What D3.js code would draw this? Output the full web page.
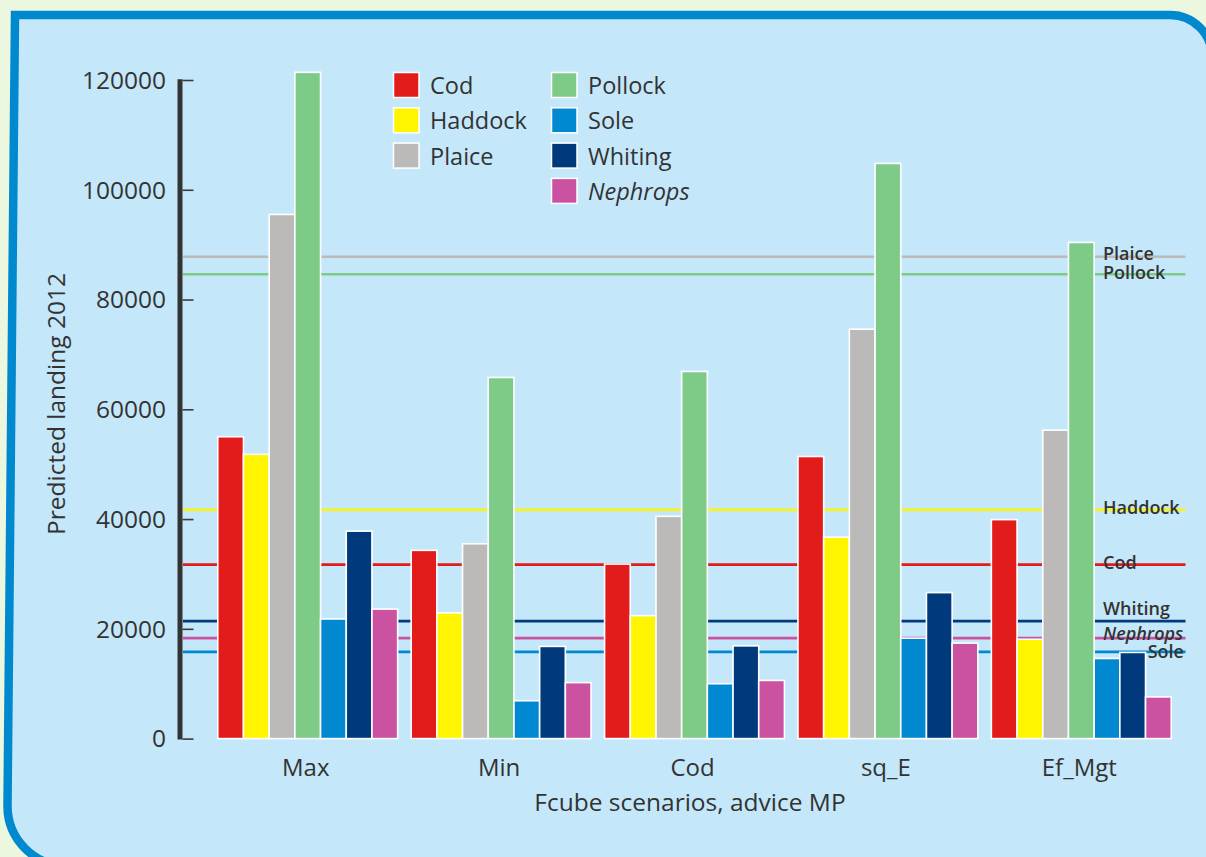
<!DOCTYPE html>
<html>
<head>
<meta charset="utf-8">
<script src="https://cdn.jsdelivr.net/npm/d3@7"></script>
<style>
  html, body { margin: 0; padding: 0; background: #ebf7de; }
  svg { display: block; }
  text { font-family: "Open Sans", "Noto Sans", sans-serif; fill: #333; }
</style>
</head>
<body>
<svg id="chart" width="1206" height="857"></svg>
<script>
// ---- data ----
const categories = ["Max", "Min", "Cod", "sq_E", "Ef_Mgt"];
const species = ["Cod", "Haddock", "Plaice", "Pollock", "Sole", "Whiting", "Nephrops"];
const speciesColors = ["#e21b1b", "#fff500", "#bcbab8", "#7ecb88", "#0089d0", "#003a7d", "#cb51a1"];
const valuesMax   = [55000, 51800, 95500, 121400, 21800, 37800, 23600];
const valuesMin   = [34300, 22900, 35500, 65800, 6900, 16800, 10200];
const valuesCod   = [31800, 22400, 40500, 66900, 10000, 16900, 10600];
const valuesSqE   = [51400, 36700, 74600, 104800, 18300, 26600, 17400];
const valuesEfMgt = [39900, 18100, 56200, 90400, 14600, 15700, 7600];
const referenceLevels = [31700, 41700, 87800, 84600, 15800, 21400, 18300];
const yTicks = [0, 20000, 40000, 60000, 80000, 100000, 120000];
const yTitle = "Predicted landing 2012";
const xTitle = "Fcube scenarios, advice MP";

const seriesByCategory = [valuesMax, valuesMin, valuesCod, valuesSqE, valuesEfMgt];

const svg = d3.select("#chart");

// ---- panel ----
svg.append("path")
  .attr("d", "M15,15 L1170,15 A42,42 0 0 1 1212,57 L1212,866 L67.5,866 A60,60 0 0 1 7.5,806 Z")
  .attr("fill", "#c4e8fa")
  .attr("stroke", "#0089cf")
  .attr("stroke-width", 8.5)
  .attr("stroke-linejoin", "miter");

// ---- scales ----
const y = d3.scaleLinear().domain([0, 120000]).range([738.6, 80]);
const x0 = d3.scaleBand().domain(categories).range([211, 1178]).paddingInner(0.07).paddingOuter(0.035);
const x1 = d3.scaleBand().domain(species).range([0, x0.bandwidth()]).padding(0);

// ---- reference lines ----
const refG = svg.append("g");
species.forEach((s, i) => {
  refG.append("line")
    .attr("x1", 183).attr("x2", 1185.5)
    .attr("y1", y(referenceLevels[i])).attr("y2", y(referenceLevels[i]))
    .attr("stroke", speciesColors[i]).attr("stroke-width", 2.6);
});

// ---- bars ----
const gBars = svg.append("g");
categories.forEach((c, ci) => {
  const g = gBars.append("g").attr("transform", `translate(${x0(c)},0)`);
  g.selectAll("rect")
    .data(seriesByCategory[ci].map((v, i) => ({ s: species[i], v, color: speciesColors[i] })))
    .join("rect")
    .attr("x", d => x1(d.s))
    .attr("width", x1.bandwidth())
    .attr("y", d => y(d.v))
    .attr("height", d => y(0) - y(d.v))
    .attr("fill", d => d.color)
    .attr("stroke", "#ffffff")
    .attr("stroke-width", 1.6);
});

// ---- y axis ----
const yAxis = d3.axisRight(y).tickValues(yTicks).tickSize(11).tickFormat("");
const gy = svg.append("g").attr("transform", "translate(182.5,0)").call(yAxis);
gy.select(".domain").remove();
gy.selectAll(".tick line").attr("stroke", "#3a3a3a").attr("stroke-width", 1.6);
svg.append("line")
  .attr("x1", 180).attr("x2", 180)
  .attr("y1", y(120000) - 0.8).attr("y2", y(0) + 0.8)
  .attr("stroke", "#333").attr("stroke-width", 5);
svg.append("g").selectAll("text")
  .data(yTicks).join("text")
  .attr("x", 166).attr("y", d => y(d))
  .attr("dy", "0.36em")
  .attr("text-anchor", "end")
  .attr("font-size", 24.5)
  .text(d => d);

svg.append("text")
  .attr("transform", `translate(65,${404}) rotate(-90)`)
  .attr("text-anchor", "middle")
  .attr("font-size", 24.5)
  .text(yTitle);

// ---- x labels ----
svg.append("g").selectAll("text")
  .data(categories).join("text")
  .attr("x", d => x0(d) + x0.bandwidth() / 2 - 2)
  .attr("y", 776)
  .attr("text-anchor", "middle")
  .attr("font-size", 24)
  .text(d => d);

svg.append("text")
  .attr("x", 690).attr("y", 811)
  .attr("text-anchor", "middle")
  .attr("font-size", 24.5)
  .text(xTitle);

// ---- reference labels ----
const refLabelY = [562.6, 508, 254, 273, 652, 609, 634];
species.forEach((s, i) => {
  const isSole = s === "Sole";
  svg.append("text")
    .attr("x", isSole ? 1184 : 1103)
    .attr("y", refLabelY[i])
    .attr("dy", "0.36em")
    .attr("text-anchor", isSole ? "end" : "start")
    .attr("font-size", 18)
    .attr("font-weight", 600)
    .attr("font-style", s === "Nephrops" ? "italic" : "normal")
    .text(s);
});

// ---- legend ----
const legendCols = [[0, 1, 2], [3, 4, 5, 6]];
const legendX = [393.5, 551.5];
legendCols.forEach((col, k) => {
  col.forEach((si, r) => {
    const ty = 72.5 + r * 35.3;
    svg.append("rect")
      .attr("x", legendX[k]).attr("y", ty)
      .attr("width", 25.5).attr("height", 25)
      .attr("fill", speciesColors[si])
      .attr("stroke", "#fff").attr("stroke-width", 1.5);
    svg.append("text")
      .attr("x", legendX[k] + 36.5).attr("y", ty + 13)
      .attr("dy", "0.36em")
      .attr("font-size", 23.5)
      .attr("font-style", species[si] === "Nephrops" ? "italic" : "normal")
      .text(species[si]);
  });
});
</script>
</body>
</html>
